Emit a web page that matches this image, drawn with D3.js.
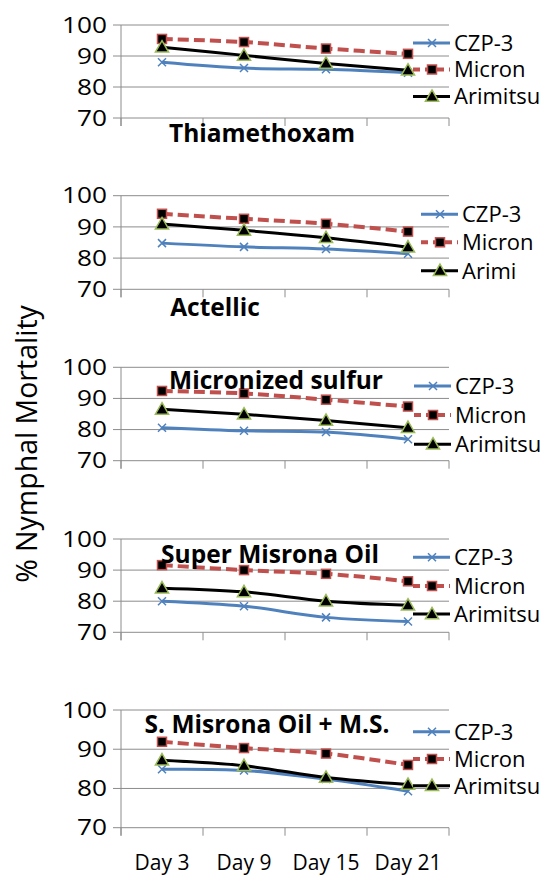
<!DOCTYPE html>
<html>
<head>
<meta charset="utf-8">
<script src="https://cdn.jsdelivr.net/npm/d3@7"></script>
<style>
  body { margin: 0; background: white; }
  text { font-family: "Open Sans", "Noto Sans", sans-serif; fill: black; }
  .title { font-weight: bold; font-size: 24.5px; }
</style>
</head>
<body>
<div class="chart"></div>
<script>
// data
const days = ['Day 3', 'Day 9', 'Day 15', 'Day 21'];
const yTicks = [70, 80, 90, 100];
const panelTitles = ['Thiamethoxam', 'Actellic', 'Micronized sulfur', 'Super Misrona Oil', 'S. Misrona Oil + M.S.'];
const legendLabels = [
  ['CZP-3', 'Micron', 'Arimitsu'],
  ['CZP-3', 'Micron', 'Arimi'],
  ['CZP-3', 'Micron', 'Arimitsu'],
  ['CZP-3', 'Micron', 'Arimitsu'],
  ['CZP-3', 'Micron', 'Arimitsu']
];
// one row per panel, values for Day 3, 9, 15, 21
const czp3 = [
  [88.0, 86.1, 85.7, 84.6],
  [84.8, 83.6, 82.9, 81.4],
  [80.6, 79.6, 79.2, 76.9],
  [80.0, 78.4, 74.8, 73.5],
  [84.9, 84.6, 82.4, 79.3]
];
const micron = [
  [95.5, 94.5, 92.4, 90.7],
  [94.2, 92.6, 91.0, 88.5],
  [92.4, 91.6, 89.6, 87.4],
  [91.6, 90.0, 88.8, 86.4],
  [91.9, 90.3, 88.9, 86.0]
];
const arimitsu = [
  [92.8, 90.2, 87.6, 85.4],
  [90.9, 88.9, 86.5, 83.5],
  [86.5, 84.9, 82.9, 80.6],
  [84.2, 83.0, 80.0, 78.7],
  [87.2, 85.8, 82.8, 81.0]
];

const width = 541;
const height = 877;
const left = 121;
const right = 449;
const gridColor = '#8c8c8c';

// where each small chart sits on the page
const boxes = [
  { top: 25, bottom: 118, tx: 262, ty: 142, lx: 413, ly: [43, 69.5, 96.5] },
  { top: 195.7, bottom: 289.3, tx: 215, ty: 316, lx: 421, ly: [214.3, 242.3, 270.7] },
  { top: 367.3, bottom: 460.7, tx: 276, ty: 389, lx: 414, ly: [386, 415, 444.3] },
  { top: 539, bottom: 632.3, tx: 270, ty: 563, lx: 413, ly: [557.3, 586, 614] },
  { top: 710, bottom: 827.7, tx: 267, ty: 733, lx: 413, ly: [731.7, 759, 785.7] }
];

const styles = [
  { color: '#4f81bd', width: 3, dash: null, legDash: null, marker: 'x' },
  { color: '#c0504d', width: 4, dash: '11,5', legDash: '7,5', marker: 'square' },
  { color: '#000000', width: 3, dash: null, legDash: null, marker: 'triangle' }
];

const svg = d3
  .select('.chart')
  .append('svg')
  .attr('width', width)
  .attr('height', height);

const x = d3.scaleBand().domain(days).range([left, right]).paddingInner(0).paddingOuter(0);

function drawMarker(g, type, cx, cy) {
  if (type === 'x') {
    const s = 4;
    g.append('path')
      .attr('d', `M${cx - s},${cy - s}L${cx + s},${cy + s}M${cx - s},${cy + s}L${cx + s},${cy - s}`)
      .attr('stroke', '#4f81bd')
      .attr('stroke-width', 1.5)
      .attr('fill', 'none');
  } else if (type === 'square') {
    g.append('rect')
      .attr('x', cx - 4.5)
      .attr('y', cy - 4.5)
      .attr('width', 9)
      .attr('height', 9)
      .attr('fill', 'black')
      .attr('stroke', '#c0504d')
      .attr('stroke-width', 1.5);
  } else {
    g.append('path')
      .attr('d', d3.symbol().type(d3.symbolTriangle).size(75)())
      .attr('transform', `translate(${cx},${cy + 1})`)
      .attr('fill', 'black')
      .attr('stroke', '#9bbb59')
      .attr('stroke-width', 1.5);
  }
}

boxes.forEach((b, p) => {
  const y = d3.scaleLinear().domain([70, 100]).range([b.bottom, b.top]);
  const g = svg.append('g');

  // gridlines with the little outer ticks on the left
  g.selectAll('.grid')
    .data(yTicks)
    .enter()
    .append('line')
    .attr('x1', left - 8)
    .attr('x2', right)
    .attr('y1', (d) => y(d))
    .attr('y2', (d) => y(d))
    .attr('stroke', gridColor)
    .attr('stroke-width', 1);

  // value axis line
  g.append('line')
    .attr('x1', left)
    .attr('x2', left)
    .attr('y1', y(100))
    .attr('y2', y(70) + 8)
    .attr('stroke', gridColor);

  // category ticks between the days
  const bounds = days.map((d) => x(d)).concat([right]);
  g.selectAll('.xtick')
    .data(bounds)
    .enter()
    .append('line')
    .attr('x1', (d) => d)
    .attr('x2', (d) => d)
    .attr('y1', y(70))
    .attr('y2', y(70) + 8)
    .attr('stroke', gridColor);

  g.selectAll('.ylab')
    .data(yTicks)
    .enter()
    .append('text')
    .attr('transform', (d) => `translate(107,${y(d)}) scale(1.22,1)`)
    .attr('dy', '0.36em')
    .attr('text-anchor', 'end')
    .style('font-size', '21.5px')
    .text((d) => d);

  const seriesVals = [czp3[p], micron[p], arimitsu[p]];
  const line = d3
    .line()
    .x((d, i) => x(days[i]) + x.bandwidth() / 2)
    .y((d) => y(d))
    .curve(d3.curveCatmullRom.alpha(0.5));

  seriesVals.forEach((vals, s) => {
    const st = styles[s];
    g.append('path')
      .attr('d', line(vals))
      .attr('fill', 'none')
      .attr('stroke', st.color)
      .attr('stroke-width', st.width)
      .attr('stroke-dasharray', st.dash);
    vals.forEach((v, i) => {
      drawMarker(g, st.marker, x(days[i]) + x.bandwidth() / 2, y(v));
    });
  });

  // legend
  legendLabels[p].forEach((label, s) => {
    const st = styles[s];
    const ly = b.ly[s];
    g.append('line')
      .attr('x1', b.lx)
      .attr('x2', b.lx + 37)
      .attr('y1', ly)
      .attr('y2', ly)
      .attr('stroke', st.color)
      .attr('stroke-width', st.width)
      .attr('stroke-dasharray', st.legDash);
    drawMarker(g, st.marker, b.lx + 19, ly);
    g.append('text')
      .attr('x', b.lx + 41)
      .attr('y', ly)
      .attr('dy', '0.36em')
      .style('font-size', '22px')
      .text(label);
  });

  g.append('text')
    .classed('title', true)
    .attr('x', b.tx)
    .attr('y', b.ty)
    .attr('text-anchor', 'middle')
    .text(panelTitles[p]);

  if (p === boxes.length - 1) {
    g.selectAll('.xlab')
      .data(days)
      .enter()
      .append('text')
      .attr('x', (d) => x(d) + x.bandwidth() / 2)
      .attr('y', 870)
      .attr('text-anchor', 'middle')
      .style('font-size', '21px')
      .text((d) => d);
  }
});

svg.append('text')
  .attr('transform', 'translate(37,444) rotate(-90)')
  .attr('text-anchor', 'middle')
  .style('font-size', '28.5px')
  .text('% Nymphal Mortality');
</script>
</body>
</html>
